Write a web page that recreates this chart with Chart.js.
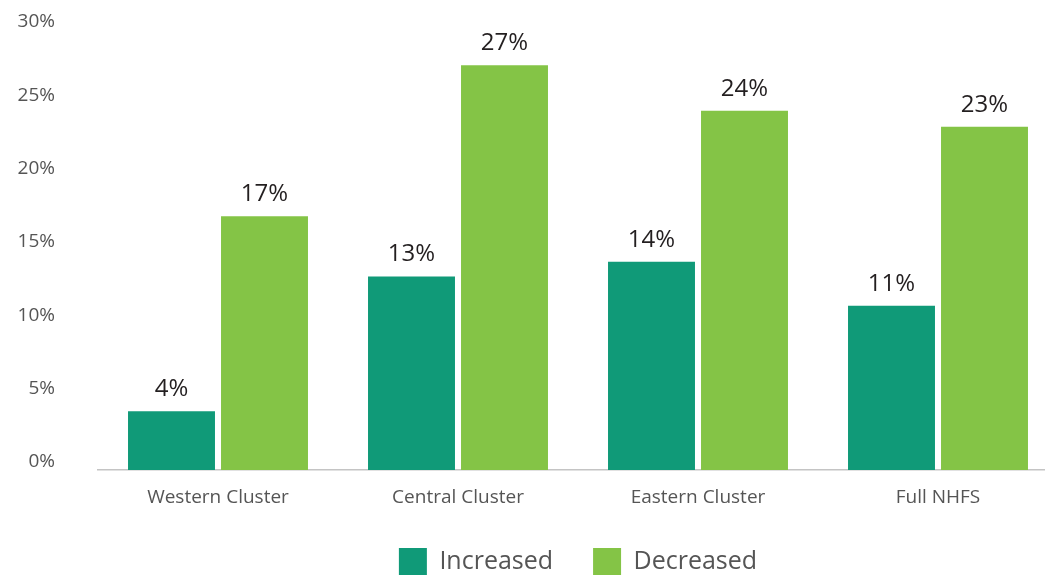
<!DOCTYPE html>
<html>
<head>
<meta charset="utf-8">
<script src="https://cdn.jsdelivr.net/npm/chart.js@4"></script>
<style>
  html, body { margin: 0; padding: 0; background: #fff; overflow: hidden; }
  #wrap { position: relative; width: 1060px; height: 585px; }
</style>
</head>
<body>
<div id="wrap"><canvas id="ChartClusters_Canvasobj"></canvas></div>
<script>
var clusterLabels = ['Western Cluster', 'Central Cluster', 'Eastern Cluster', 'Full NHFS'];
var increasedValues = [4.0, 13.2, 14.2, 11.2];
var decreasedValues = [17.3, 27.6, 24.5, 23.4];
var increasedText = ['4%', '13%', '14%', '11%'];
var decreasedText = ['17%', '27%', '24%', '23%'];
var yTicks = [0, 5, 10, 15, 20, 25, 30];

// draws the % label above each bar
const barValueLabels = {
  id: 'barValueLabels',
  afterDatasetsDraw(chart) {
    const ctx = chart.ctx;
    ctx.save();
    ctx.font = '24px "Open Sans"';
    ctx.fillStyle = '#231f20';
    ctx.textAlign = 'center';
    ctx.textBaseline = 'alphabetic';
    chart.data.datasets.forEach((ds, i) => {
      chart.getDatasetMeta(i).data.forEach((bar, j) => {
        ctx.fillText(ds.valueText[j], bar.x, bar.y - 15);
      });
    });
    ctx.restore();
  }
};

const config_clusters = {
  type: 'bar',
  data: {
    labels: clusterLabels,
    datasets: [
      {
        label: 'Increased',
        backgroundColor: '#109a78',
        data: increasedValues,
        valueText: increasedText,
        categoryPercentage: 0.775,
        barPercentage: 0.935
      },
      {
        label: 'Decreased',
        backgroundColor: '#84c446',
        data: decreasedValues,
        valueText: decreasedText,
        categoryPercentage: 0.775,
        barPercentage: 0.935
      }
    ]
  },
  options: {
    responsive: true,
    maintainAspectRatio: false,
    animation: false,
    layout: { padding: { top: 30, right: 2, left: 0, bottom: 0 } },
    plugins: {
      tooltip: { enabled: false },
      legend: {
        position: 'bottom',
        fullSize: false,
        labels: {
          boxWidth: 28,
          boxHeight: 27,
          padding: 40,
          color: '#555555',
          font: { family: 'Open Sans', size: 25 }
        }
      }
    },
    scales: {
      x: {
        grid: { display: false, drawTicks: false },
        border: { display: true, color: '#c4c4c4', width: 1.5 },
        afterFit: function (s) { s.height = 38; },
        ticks: {
          color: '#555555',
          padding: 16,
          font: { family: 'Open Sans', size: 19 }
        }
      },
      y: {
        min: 0,
        max: 30,
        grid: { display: false, drawTicks: false },
        border: { display: false },
        afterBuildTicks: function (s) { s.ticks = yTicks.map(v => ({ value: v })); },
        afterFit: function (s) {
          s.width = 98;
          s.paddingTop = 0;
          s.paddingBottom = 0;
        },
        ticks: {
          color: '#555555',
          padding: 43,
          labelOffset: -8,
          font: { family: 'Open Sans', size: 19 },
          callback: v => v + '%'
        }
      }
    }
  },
  plugins: [barValueLabels]
};

const ChartClusters = new Chart(
  document.getElementById('ChartClusters_Canvasobj'),
  config_clusters
);
</script>
</body>
</html>
